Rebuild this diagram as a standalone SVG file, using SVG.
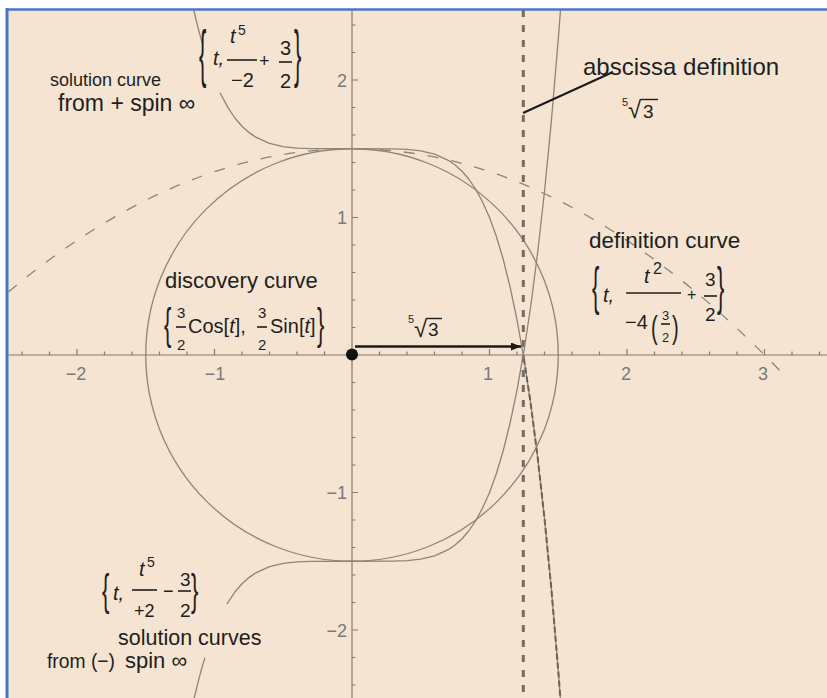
<svg xmlns="http://www.w3.org/2000/svg" width="827" height="698" viewBox="0 0 827 698">
<defs>
<style>
text{font-family:"Liberation Sans",Arial,sans-serif;fill:#1e1e1e}
.it{font-style:italic}
.tick{fill:#7a7a7a;font-size:18px}
.crv{fill:none;stroke:#8e8478;stroke-width:1.3;stroke-linejoin:round}
.ax{fill:none;stroke:#857b70;stroke-width:1.2}
.bar{stroke:#1e1e1e;stroke-width:1.6}
</style>
<clipPath id="plot"><rect x="8" y="10" width="819" height="688"/></clipPath>
<marker id="ah" viewBox="0 0 10 8" refX="10" refY="4" markerWidth="10" markerHeight="8" markerUnits="userSpaceOnUse" orient="auto"><path d="M0,0 L10,4 L0,8 Z" fill="#1a1a1a"/></marker>
</defs>
<rect x="0" y="0" width="827" height="698" fill="#ffffff"/>
<rect x="7" y="9" width="820" height="689" fill="#f5e4d1"/>
<line x1="7" y1="9.5" x2="827" y2="9.5" stroke="#4a76c8" stroke-width="2.5"/>
<line x1="7" y1="8" x2="7" y2="698" stroke="#4a76c8" stroke-width="3"/>

<g id="plot-area" clip-path="url(#plot)">
<g id="axes">
<line class="ax" x1="8" y1="355" x2="827" y2="355"/>
<line class="ax" x1="352" y1="10" x2="352" y2="698"/>
<path class="ax" d="M22,355v-3.5M49.5,355v-3.5M77,355v-6M104.5,355v-3.5M132,355v-3.5M159.5,355v-3.5M187,355v-3.5M214.5,355v-6M242,355v-3.5M269.5,355v-3.5M297,355v-3.5M324.5,355v-3.5M379.5,355v-3.5M407,355v-3.5M434.5,355v-3.5M462,355v-3.5M489.5,355v-6M517,355v-3.5M544.5,355v-3.5M572,355v-3.5M599.5,355v-3.5M627,355v-6M654.5,355v-3.5M682,355v-3.5M709.5,355v-3.5M737,355v-3.5M764.5,355v-6M792,355v-3.5M819.5,355v-3.5"/>
<path class="ax" d="M352,25h3.5M352,52.5h3.5M352,80h6M352,107.5h3.5M352,135h3.5M352,162.5h3.5M352,190h3.5M352,217.5h6M352,245h3.5M352,272.5h3.5M352,300h3.5M352,327.5h3.5M352,382.5h3.5M352,410h3.5M352,437.5h3.5M352,465h3.5M352,492.5h6M352,520h3.5M352,547.5h3.5M352,575h3.5M352,602.5h3.5M352,630h6M352,657.5h3.5M352,685h3.5"/>
</g>
<g id="tick-labels" class="tick">
<text class="tick" x="76" y="380" text-anchor="middle">−2</text>
<text class="tick" x="215" y="380" text-anchor="middle">−1</text>
<text class="tick" x="488" y="380" text-anchor="middle">1</text>
<text class="tick" x="626" y="380" text-anchor="middle">2</text>
<text class="tick" x="763" y="380" text-anchor="middle">3</text>
<text class="tick" x="347" y="86.5" text-anchor="end">2</text>
<text class="tick" x="347" y="224" text-anchor="end">1</text>
<text class="tick" x="347" y="499" text-anchor="end">−1</text>
<text class="tick" x="347" y="636.5" text-anchor="end">−2</text>
</g>

<g id="discovery-circle">
<circle class="crv" cx="352" cy="355" r="206.25"/>
</g>
<g id="definition-parabola">
<path class="crv" d="M8.25,291.98 Q396.69,-31.7 785.1,376.1" stroke-dasharray="11 13"/>
</g>
<g id="abscissa-line">
<line x1="523.3" y1="10" x2="523.3" y2="698" stroke="#756b62" stroke-width="3" stroke-dasharray="7 8"/>
</g>
<g id="solution-upper">
<polyline class="crv" points="192.5,4.35 193.9,10.5 195.25,16.38 198,27.6 202.8,45.4"/>
<polyline class="crv" points="220,92.7 228.25,108.15 235.1,118.25 242,126.2 248.9,132.4 255.75,137.2 269.5,143.4 283.25,146.6 297,148.05 310.75,148.58 352,148.75 393.25,148.92 407,149.45 420.75,150.9 434.5,154.1 448.25,160.3 455.1,165.06 462,171.3 468.9,179.25 475.75,189.35 482.6,201.95 489.5,217.5 496.4,236.5 503.25,259.5 510.1,287 517,319.8 523.9,358.6 530.75,404 537.6,457 544.5,518.5 551.4,589.4 558.25,670.8 561,706.6"/>
<polyline points="523.9,358.6 530.75,404 537.6,457 544.5,518.5 551.4,589.4 558.25,670.8 561,706.6" fill="none" stroke="#6c635a" stroke-width="2" stroke-dasharray="6 3"/>
</g>
<g id="solution-lower">
<polyline class="crv" points="192.5,705.65 193.9,699.5 195.25,693.6 198,682.4 200.75,672 202.1,667 204.9,657.7"/>
<polyline class="crv" points="226.9,604.15 235.1,591.75 242,583.8 248.9,577.6 255.75,572.8 269.5,566.6 283.25,563.4 297,561.95 310.75,561.42 352,561.25 393.25,561.08 407,560.55 420.75,559.1 434.5,555.9 448.25,549.7 455.1,544.94 462,538.7 468.9,530.75 475.75,520.65 482.6,508.05 489.5,492.5 496.4,473.5 503.25,450.5 510.1,423 517,390.2 523.9,351.4 530.75,306 537.6,253 544.5,191.5 551.4,120.6 558.25,39.2 561,3.4"/>
</g>
</g>

<g id="connectors">
<line x1="355" y1="346.5" x2="521" y2="346.5" stroke="#1a1a1a" stroke-width="2.5" marker-end="url(#ah)"/>
<line x1="523" y1="113" x2="613" y2="72" stroke="#1a1a1a" stroke-width="2"/>
</g>
<g id="origin-dot"><circle cx="352" cy="354.5" r="6" fill="#111"/></g>

<g id="label-solution-upper">
<text x="50" y="86" font-size="18">solution curve</text>
<text x="58" y="111" font-size="23">from + spin ∞</text>
</g>
<g id="formula-upper">
<text transform="translate(199,75) scale(1,2.9)" font-size="22">{</text>
<text class="it" x="213" y="65" font-size="20">t,</text>
<text class="it" x="230" y="43" font-size="20">t</text>
<text x="238" y="35" font-size="14">5</text>
<line class="bar" x1="227" y1="60" x2="257" y2="60"/>
<text x="231" y="87" font-size="20">−2</text>
<text x="259" y="67" font-size="18">+</text>
<text x="280" y="55" font-size="20">3</text>
<line class="bar" x1="279" y1="62" x2="292" y2="62"/>
<text x="280" y="88" font-size="20">2</text>
<text transform="translate(294,75) scale(1,2.9)" font-size="22">}</text>
</g>
<g id="label-abscissa">
<text x="583" y="75" font-size="24">abscissa definition</text>
<text x="622" y="106" font-size="11">5</text>
<text x="628" y="118" font-size="24">√</text>
<line x1="640.5" y1="99.5" x2="658" y2="99.5" stroke="#1e1e1e" stroke-width="1.4"/>
<text x="643" y="118" font-size="19">3</text>
</g>
<g id="label-definition">
<text x="589" y="248" font-size="22.5">definition curve</text>
</g>
<g id="formula-definition">
<text transform="translate(592,304) scale(1,2.32)" font-size="22">{</text>
<text class="it" x="603" y="302" font-size="20">t,</text>
<text class="it" x="644" y="283" font-size="20">t</text>
<text x="653" y="274" font-size="16">2</text>
<line class="bar" x1="626" y1="293" x2="681" y2="293"/>
<text x="625" y="329" font-size="20">−4</text>
<text transform="translate(651,338) scale(1,1.6)" font-size="20">(</text>
<text x="662" y="320" font-size="13">3</text>
<line class="bar" x1="661" y1="324" x2="670" y2="324" stroke-width="1.2"/>
<text x="662" y="342" font-size="13">2</text>
<text transform="translate(672,338) scale(1,1.6)" font-size="20">)</text>
<text x="687" y="300" font-size="16">+</text>
<text x="705" y="286" font-size="19">3</text>
<line class="bar" x1="704" y1="296" x2="717" y2="296"/>
<text x="705" y="321" font-size="19">2</text>
<text transform="translate(717,304) scale(1,2.32)" font-size="22">}</text>
</g>
<g id="label-discovery">
<text x="165" y="288" font-size="22">discovery curve</text>
</g>
<g id="formula-discovery">
<text transform="translate(164,339) scale(1,1.98)" font-size="22">{</text>
<text x="177" y="318" font-size="15">3</text>
<line class="bar" x1="176" y1="327" x2="186" y2="327"/>
<text x="177" y="350" font-size="15">2</text>
<text x="188" y="333" font-size="20">Cos[<tspan class="it">t</tspan>],</text>
<text x="258" y="318" font-size="15">3</text>
<line class="bar" x1="257" y1="327" x2="267" y2="327"/>
<text x="258" y="350" font-size="15">2</text>
<text x="270" y="333" font-size="20">Sin[<tspan class="it">t</tspan>]</text>
<text transform="translate(317,339) scale(1,1.98)" font-size="22">}</text>
</g>
<g id="label-arrow">
<text x="408" y="323" font-size="11">5</text>
<text x="414" y="337" font-size="24">√</text>
<line x1="426.5" y1="318.5" x2="442" y2="318.5" stroke="#1e1e1e" stroke-width="1.4"/>
<text x="428" y="336" font-size="19">3</text>
</g>
<g id="formula-lower">
<text transform="translate(102,605) scale(1,2)" font-size="22">{</text>
<text class="it" x="113" y="600" font-size="20">t,</text>
<text class="it" x="139" y="576" font-size="20">t</text>
<text x="147" y="567" font-size="14">5</text>
<line class="bar" x1="132" y1="590" x2="157" y2="590"/>
<text x="134" y="617" font-size="18">+2</text>
<text x="163" y="597" font-size="18">−</text>
<text x="180" y="586" font-size="19">3</text>
<line class="bar" x1="178" y1="591" x2="191" y2="591"/>
<text x="180" y="617" font-size="19">2</text>
<text transform="translate(191,605) scale(1,2)" font-size="22">}</text>
</g>
<g id="label-solution-lower">
<text x="118" y="645" font-size="21.5">solution  curves</text>
<text x="47" y="668" font-size="21" textLength="68" lengthAdjust="spacingAndGlyphs">from (−)</text>
<text x="125" y="668" font-size="22">spin ∞</text>
</g>
</svg>
